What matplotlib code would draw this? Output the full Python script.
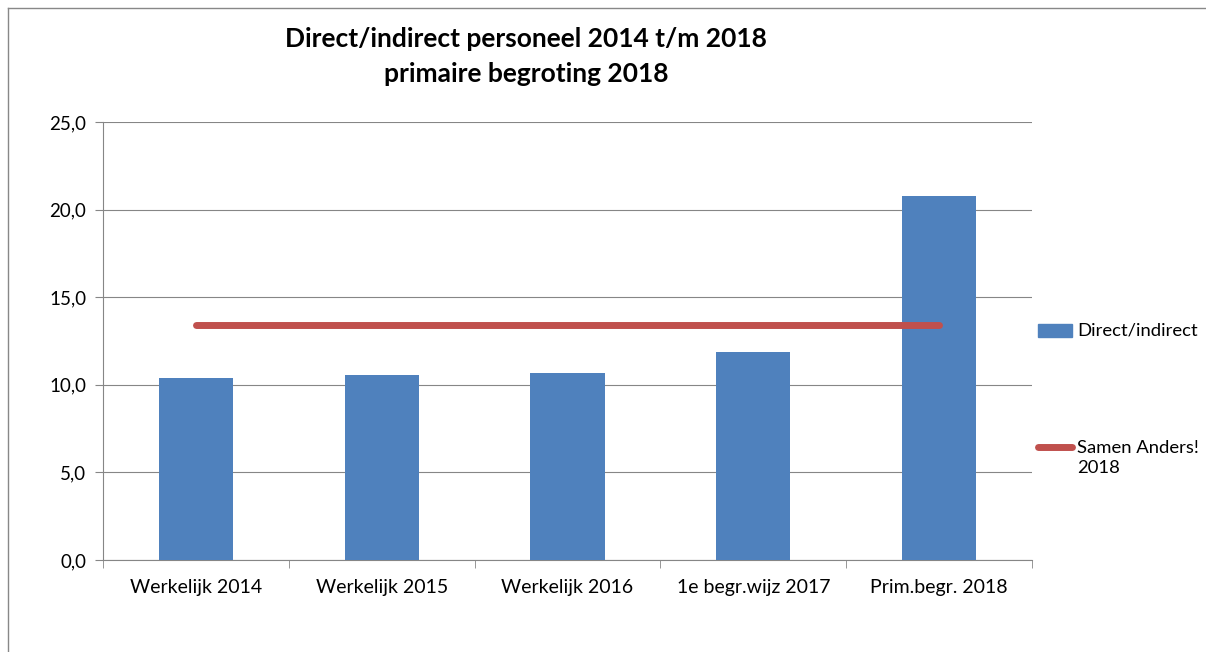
import matplotlib
matplotlib.use("Agg")
import matplotlib.pyplot as plt
from matplotlib.lines import Line2D
from matplotlib.patches import Rectangle

categories = ["Werkelijk 2014", "Werkelijk 2015", "Werkelijk 2016", "1e begr.wijz 2017", "Prim.begr. 2018"]
direct_indirect = [10.4, 10.55, 10.7, 11.85, 20.8]
samen_anders = [13.4, 13.4, 13.4, 13.4, 13.4]
yticks = [0, 5, 10, 15, 20, 25]

plt.rcParams['font.family'] = ['Lato', 'DejaVu Sans']

fig = plt.figure(figsize=(12.06, 6.52), dpi=100)
ax = fig.add_axes([103/1206, 1-560/652, (1032-103)/1206, (560-122)/652])

x = list(range(len(categories)))
ax.bar(x, direct_indirect, width=0.4, color="#4F81BD", zorder=3)
ax.plot(x, samen_anders, color="#C0504D", lw=5, solid_capstyle="round", zorder=4)

ax.set_xlim(-0.5, len(categories) - 0.5)
ax.set_ylim(0, 25)
ax.set_yticks(yticks)
ax.set_yticklabels([f"{v:.1f}".replace(".", ",") for v in yticks], fontsize=13.5)
ax.set_xticks(x)
ax.set_xticklabels(categories, fontsize=14)
ax.tick_params(axis="x", length=0, pad=14)
ax.set_xticks([i - 0.5 for i in range(len(categories) + 1)], minor=True)
ax.tick_params(axis="x", which="minor", length=6, color="#868686")
ax.tick_params(axis="y", length=6, color="#868686", pad=6)
ax.grid(axis="y", color="#868686", lw=0.8, zorder=0)
for s in ["top", "right"]:
    ax.spines[s].set_visible(False)
ax.spines["left"].set_color("#868686")
ax.spines["bottom"].set_color("#868686")

fig.text(526/1206, 1-39/652, "Direct/indirect personeel 2014 t/m 2018", ha="center", va="center",
         fontsize=19, fontweight="bold")
fig.text(526/1206, 1-74/652, "primaire begroting 2018", ha="center", va="center",
         fontsize=19, fontweight="bold")

# legend
fig.add_artist(Rectangle((1038/1206, 1-337/652), 34/1206, 13/652, transform=fig.transFigure,
                         color="#4F81BD"))
fig.text(1077/1206, 1-331/652, "Direct/indirect", ha="left", va="center", fontsize=13.3)
fig.add_artist(Line2D([1038/1206, 1072/1206], [1-447/652, 1-447/652], transform=fig.transFigure,
                      color="#C0504D", lw=5, solid_capstyle="round"))
fig.text(1077/1206, 1-458/652, "Samen Anders!\n2018", ha="left", va="center", fontsize=13.3,
         linespacing=1.3)

# outer border
fig.add_artist(Line2D([8/1206, 1], [1-8/652, 1-8/652], transform=fig.transFigure, color="#888888", lw=1))
fig.add_artist(Line2D([8/1206, 8/1206], [0, 1-8/652], transform=fig.transFigure, color="#888888", lw=1))

fig.savefig("out.png", dpi=100)
